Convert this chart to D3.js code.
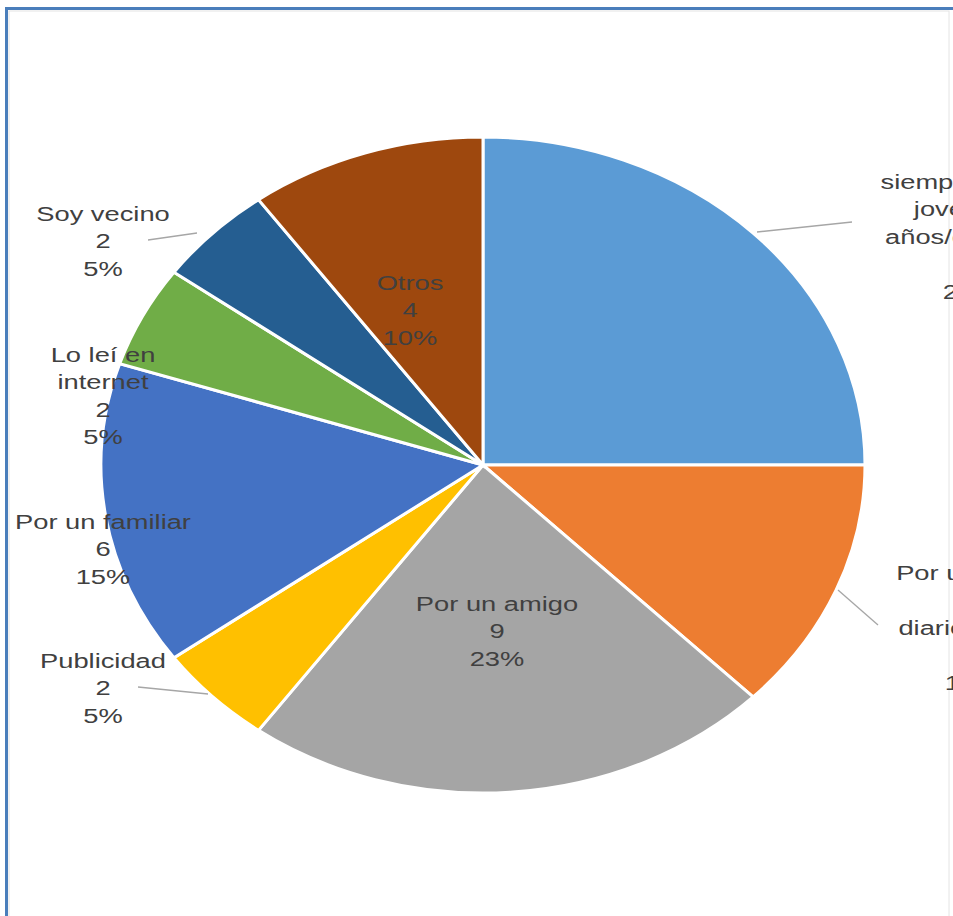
<!DOCTYPE html>
<html>
<head>
<meta charset="utf-8">
<script src="https://cdn.jsdelivr.net/npm/d3@7"></script>
<style>
  html, body { margin: 0; padding: 0; background: #fff; overflow: hidden; }
  svg { display: block; }
</style>
</head>
<body>
<div id="chart"></div>
<script>
// data
var categories = [
  "siempre desde|joven por|años/décadas",
  "Por un aviso|en|diario online",
  "Por un amigo",
  "Publicidad",
  "Por un familiar",
  "Lo leí en|internet",
  "Soy vecino",
  "Otros"
];
var values = [10, 5, 9, 2, 6, 2, 2, 4];
var percents = ["25%", "13%", "23%", "5%", "15%", "5%", "5%", "10%"];
var colors = ["#5b9bd5", "#ed7d31", "#a5a5a5", "#ffc000", "#4472c4", "#70ad47", "#255e91", "#9e480e"];

var W = 953, H = 916;
var cx = 483, cy = 465;
var ry = 328, rx = 382;
var sx = rx / ry;
var txtScale = 1.3;
var lineH = 27.5;

var svg = d3.select('#chart').append('svg')
  .attr('width', W).attr('height', H);

// frame
svg.append('rect')
  .attr('x', 9).attr('y', 11).attr('width', 940).attr('height', 920)
  .attr('fill', 'none').attr('stroke', '#e4e4e4').attr('stroke-width', 1);
svg.append('rect')
  .attr('x', 6.5).attr('y', 8.5).attr('width', 960).attr('height', 940)
  .attr('fill', 'none').attr('stroke', '#4a7ebb').attr('stroke-width', 3);

var pie = d3.pie().sort(null).value(function(d){ return d; });
var arcs = pie(values);
var arc = d3.arc().innerRadius(0).outerRadius(ry);

var g = svg.append('g')
  .attr('transform', 'translate(' + cx + ',' + cy + ') scale(' + sx + ',1)');

g.selectAll('path.slice')
  .data(arcs)
  .enter().append('path')
  .attr('class', 'slice')
  .attr('d', arc)
  .attr('fill', function(d, i){ return colors[i]; })
  .attr('stroke', '#fff')
  .attr('stroke-width', 3)
  .attr('vector-effect', 'non-scaling-stroke');

// label placement (centre of text block, first baseline) per slice
var labelPos = [
  {x: 970, y: 189, line: [[757, 232], [852, 222]]},
  {x: 972, y: 580, line: [[838, 590], [878, 625]]},
  {x: 497, y: 611},
  {x: 103, y: 668, line: [[208, 694], [138, 687]]},
  {x: 103, y: 529},
  {x: 103, y: 362},
  {x: 103, y: 221, line: [[197, 233], [148, 240]]},
  {x: 410, y: 290}
];

// leader lines
labelPos.forEach(function(p){
  if(p.line){
    svg.append('line')
      .attr('x1', p.line[0][0]).attr('y1', p.line[0][1])
      .attr('x2', p.line[1][0]).attr('y2', p.line[1][1])
      .attr('stroke', '#a6a6a6').attr('stroke-width', 1.3);
  }
});

arcs.forEach(function(a, i){
  var p = labelPos[i];
  var lines = categories[i].split('|').concat([String(values[i]), percents[i]]);
  var t = svg.append('text')
    .attr('transform', 'translate(' + p.x + ',' + p.y + ') scale(' + txtScale + ',1)')
    .attr('text-anchor', 'middle')
    .attr('font-family', 'Liberation Sans, Arial, sans-serif')
    .attr('font-size', 21)
    .attr('fill', '#404040');
  lines.forEach(function(s, k){
    t.append('tspan').attr('x', 0).attr('y', k * lineH).text(s);
  });
});
</script>
</body>
</html>
